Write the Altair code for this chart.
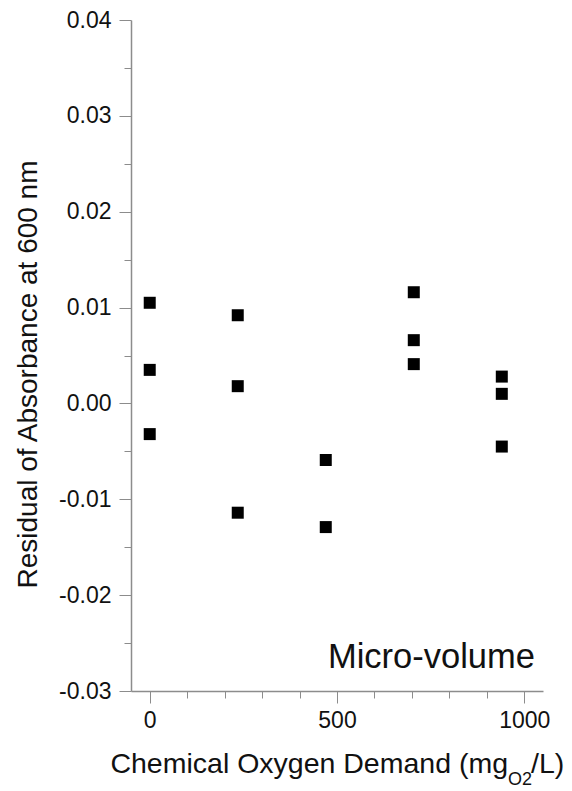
import altair as alt
import pandas as pd

# Data
cod = [0, 0, 0, 235, 235, 235, 470, 470, 705, 705, 705, 940, 940, 940]
residual = [0.0105, 0.0035, -0.0032,
            0.0092, 0.0018, -0.0114,
            -0.0059, -0.0129,
            0.0116, 0.0066, 0.0041,
            0.0028, 0.0010, -0.0045]

x_ticks = [0, 100, 200, 300, 400, 500, 600, 700, 800, 900, 1000]
y_ticks = [-0.03, -0.025, -0.02, -0.015, -0.01, -0.005, 0.0, 0.005,
           0.01, 0.015, 0.02, 0.025, 0.03, 0.035, 0.04]

df = pd.DataFrame({"cod": cod, "res": residual})

FONT = "Liberation Sans"
AX = "#8c8c8c"

x_enc = alt.X(
    "cod:Q",
    scale=alt.Scale(domain=[-50, 1050], nice=False, zero=False),
    axis=alt.Axis(
        values=x_ticks,
        title=None,
        grid=False,
        domainColor=AX, domainWidth=1.5,
        tickColor=AX, tickWidth=1,
        tickSize={"condition": {"test": "datum.value % 500 == 0", "value": 12}, "value": 7},
        labelExpr="datum.value % 500 == 0 ? format(datum.value, 'd') : ''",
        labelFont=FONT, labelFontSize=23, labelColor="#111",
        labelPadding=6, labelFlush=False, labelOverlap=False,
    ),
)
y_enc = alt.Y(
    "res:Q",
    scale=alt.Scale(domain=[-0.03, 0.04], nice=False, zero=False),
    axis=alt.Axis(
        values=y_ticks,
        title="Residual of Absorbance at 600 nm",
        titleFont=FONT, titleFontSize=28, titleFontWeight="normal", titleColor="#111",
        titleAngle=270, titleAlign="center", titleBaseline="middle",
        titleX=-103, titleY=354,
        grid=False,
        domainColor=AX, domainWidth=1.5,
        tickColor=AX, tickWidth=1,
        tickSize={"condition": {"test": "abs(datum.value*100 - round(datum.value*100)) < 0.01", "value": 12}, "value": 7},
        labelExpr="abs(datum.value*100 - round(datum.value*100)) < 0.01 ? ((datum.value < -0.0001 ? '-' : '') + format(abs(datum.value), '.2f')) : ''",
        labelFont=FONT, labelFontSize=23, labelColor="#111",
        labelPadding=8, labelFlush=False, labelOverlap=False,
    ),
)

points = alt.Chart(df).mark_point(
    shape="square", filled=True, size=144, color="black", opacity=1
).encode(x=x_enc, y=y_enc)

label_df = pd.DataFrame({"t": ["Micro-volume"]})
micro = alt.Chart(label_df).mark_text(
    font=FONT, fontSize=34.5, align="right", baseline="alphabetic", color="#111"
).encode(text="t:N", x=alt.value(404), y=alt.value(648))

t1 = alt.Chart(pd.DataFrame({"t": ["Chemical Oxygen Demand (mg"]})).mark_text(
    font=FONT, fontSize=28.5, align="right", baseline="alphabetic", color="#111"
).encode(text="t:N", x=alt.value(377), y=alt.value(753))
t2 = alt.Chart(pd.DataFrame({"t": ["O2"]})).mark_text(
    font=FONT, fontSize=18, align="left", baseline="alphabetic", color="#111"
).encode(text="t:N", x=alt.value(377), y=alt.value(765))
t3 = alt.Chart(pd.DataFrame({"t": ["/L)"]})).mark_text(
    font=FONT, fontSize=28.5, align="left", baseline="alphabetic", color="#111"
).encode(text="t:N", x=alt.value(400), y=alt.value(753))

chart = alt.layer(points, micro, t1, t2, t3).properties(
    width=412,
    height=671,
    autosize=alt.AutoSizeParams(type="none"),
    padding={"left": 131, "top": 20, "right": 29, "bottom": 100},
    background="white",
).configure_view(stroke=None)

chart.save("out.html", embed_options={"renderer": "svg", "actions": False})
